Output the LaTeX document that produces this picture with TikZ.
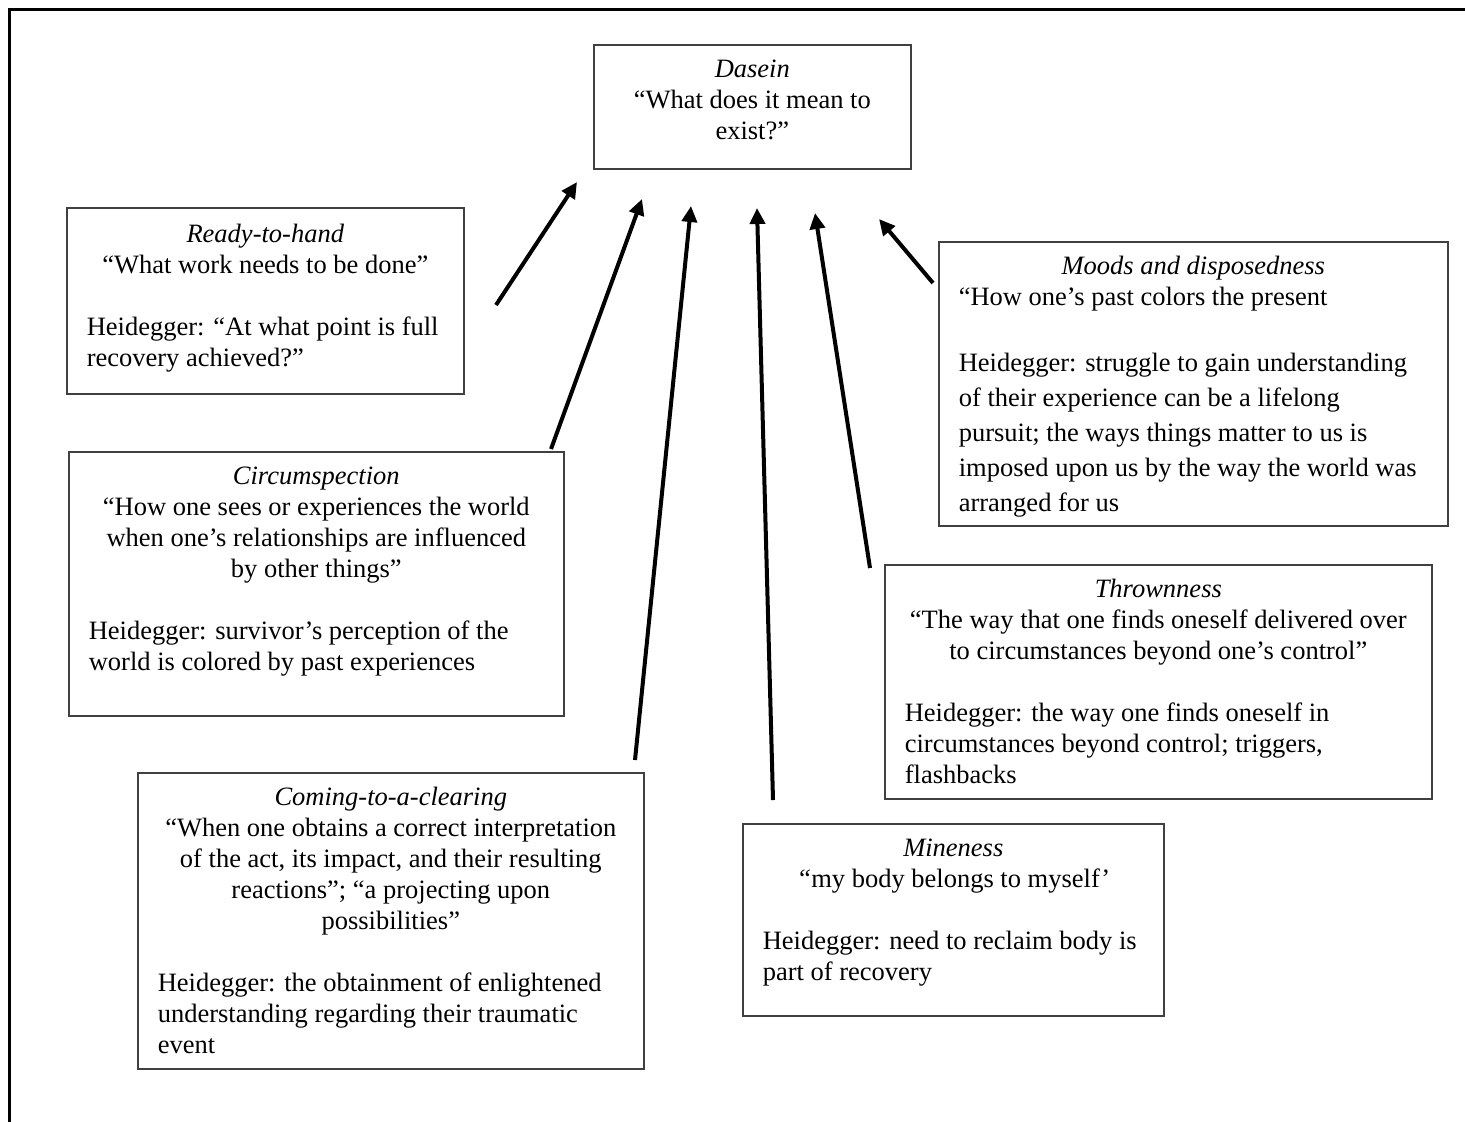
\documentclass[tikz,border=0pt]{standalone}
\usepackage{fontspec}
\setmainfont{Liberation Serif}
\usetikzlibrary{arrows.meta,positioning}
\tikzstyle{arr}=[line width=2pt,-{Triangle[length=8pt,width=7.5pt]}]
\newcommand{\boxbody}[3]{\parbox[c][#2][t]{#1}{\vspace*{5.5pt}#3}}

\begin{document}
\begin{tikzpicture}[x=0.5pt,y=-0.5pt,
concept/.style={rectangle,draw=black!75,line width=0.8pt,
inner xsep=10pt,inner ysep=0pt,anchor=north west,
font=\fontsize{13.25pt}{15.5pt}\selectfont},
]
\useasboundingbox (0,0) rectangle (1465,1121);
\draw[line width=1.5pt] (9,1130) -- (9,9) -- (1475,9);
% centre box
\node[concept] (dasein) at (593,44) {\boxbody{138.5pt}{62pt}{\centering\strut\textit{Dasein}\\
“What does it mean to\\exist?”}};
% left column
\node[concept] (ready) at (66,207) {\boxbody{178.5pt}{93pt}{\vspace*{1pt}\centering\strut\textit{Ready-to-hand}\\
“What work needs to be done”\par\vspace{15.5pt}
\raggedright Heidegger: “At what point is full\\recovery achieved?”}};
\node[concept] (circ) at (68,451) {\boxbody{227.5pt}{132pt}{\centering\strut\textit{Circumspection}\\
“How one sees or experiences the world\\when one’s relationships are influenced\\by other things”\par\vspace{15.5pt}
\raggedright Heidegger: survivor’s perception of the\\world is colored by past experiences}};
\node[concept] (coming) at (137,772) {\boxbody{233pt}{148pt}{\centering\strut\textit{Coming-to-a-clearing}\\
“When one obtains a correct interpretation\\of the act, its impact, and their resulting\\reactions”; “a projecting upon\\possibilities”\par\vspace{15.5pt}
\raggedright Heidegger: the obtainment of enlightened\\understanding regarding their traumatic\\event}};
% right column
\node[concept] (moods) at (938,241) {\boxbody{234.5pt}{142pt}{\centering\strut\textit{Moods and disposedness}\par
\raggedright “How one’s past colors the present\par\vspace{15.5pt}
\fontsize{13.25pt}{17.5pt}\selectfont
Heidegger: struggle to gain understanding\\of their experience can be a lifelong\\pursuit; the ways things matter to us is\\imposed upon us by the way the world was\\arranged for us}};
\node[concept] (thrown) at (884,564) {\boxbody{253.5pt}{117pt}{\centering\strut\textit{Thrownness}\\
“The way that one finds oneself delivered over\\to circumstances beyond one’s control”\par\vspace{15.5pt}
\raggedright Heidegger: the way one finds oneself in\\circumstances beyond control; triggers,\\flashbacks}};
\node[concept] (mine) at (742,823) {\boxbody{190.5pt}{96pt}{\centering\strut\textit{Mineness}\\
\textit{“}my body belongs to myself’\par\vspace{15.5pt}
\raggedright Heidegger: need to reclaim body is\\part of recovery}};
% arrow ends
\coordinate (rt0) at (496,305);  \coordinate (rt1) at (577,182);
\coordinate (ci0) at (551,449);  \coordinate (ci1) at (642,199);
\coordinate (co0) at (635,760);  \coordinate (co1) at (691,206);
\coordinate (mi0) at (773,800);  \coordinate (mi1) at (757,208);
\coordinate (th0) at (870,568);  \coordinate (th1) at (815,213);
\coordinate (mo0) at (933,283);  \coordinate (mo1) at (879,219);
\draw[arr] (rt0) -- (rt1);
\draw[arr] (ci0) -- (ci1);
\draw[arr] (co0) -- (co1);
\draw[arr] (mi0) -- (mi1);
\draw[arr] (th0) -- (th1);
\draw[arr] (mo0) -- (mo1);
\end{tikzpicture}
\end{document}
